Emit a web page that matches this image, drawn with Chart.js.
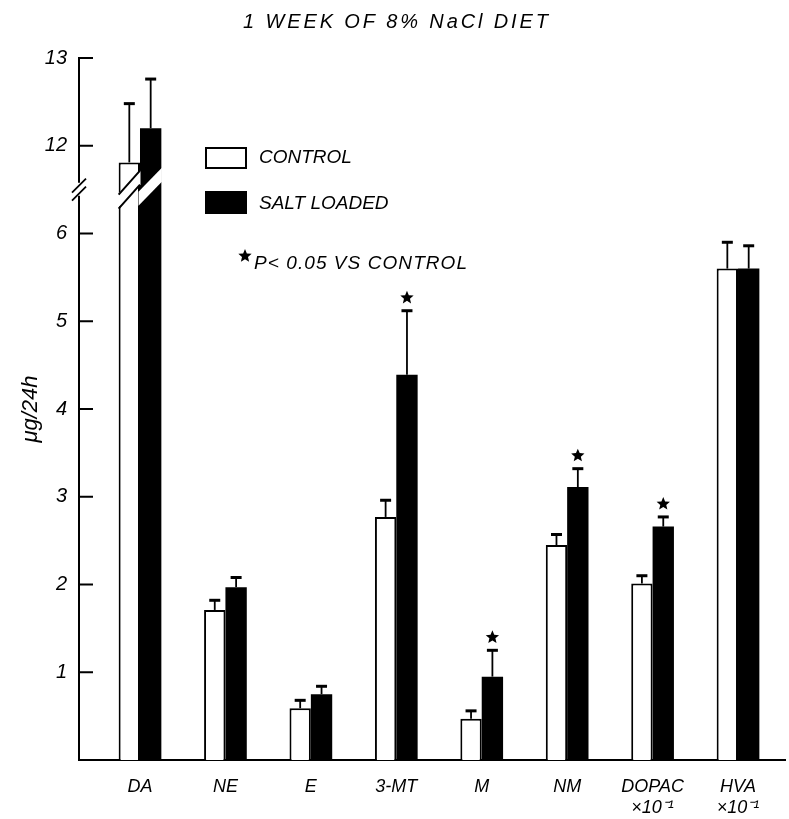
<!DOCTYPE html>
<html>
<head>
<meta charset="utf-8">
<script src="https://cdn.jsdelivr.net/npm/chart.js@4"></script>
<style>
  html, body { margin: 0; padding: 0; background: #fff; }
  #wrap { width: 789px; height: 819px; }
</style>
</head>
<body>
<div id="wrap"><canvas id="chart"></canvas></div>
<script>
const CATEGORIES = [["DA"], ["NE"], ["E"], ["3-MT"], ["M"], ["NM"], ["DOPAC", "×10⁻¹"], ["HVA", "×10⁻¹"]];
const CONTROL = [11.81, 1.71, 0.59, 2.77, 0.47, 2.45, 2.01, 5.60];
const CONTROL_ERR = [12.48, 1.82, 0.68, 2.96, 0.56, 2.57, 2.10, 5.90];
const SALT = [12.20, 1.97, 0.75, 4.39, 0.95, 3.11, 2.66, 5.60];
const SALT_ERR = [12.76, 2.08, 0.84, 5.12, 1.25, 3.32, 2.77, 5.86];
const SIGNIFICANT = [false, false, false, true, true, true, true, false];
const Y_TICKS = [1, 2, 3, 4, 5, 6, 12, 13];

// axis break: values between 6.5 and 11.5 are cut out of the scale
const BREAK_LOW = 6.5;
const BREAK_GAP = 5;
const FONT = "'Liberation Sans', Arial, sans-serif";

function toDisplay(v) {
  return v > BREAK_LOW ? v - BREAK_GAP : v;
}
function fromDisplay(v) {
  return v > BREAK_LOW ? v + BREAK_GAP : v;
}

function drawStar(ctx, cx, cy, r) {
  ctx.beginPath();
  for (let i = 0; i < 10; i++) {
    const rad = i % 2 === 0 ? r : r * 0.45;
    const a = -Math.PI / 2 + (i * Math.PI) / 5;
    const px = cx + rad * Math.cos(a);
    const py = cy + rad * Math.sin(a);
    if (i === 0) ctx.moveTo(px, py);
    else ctx.lineTo(px, py);
  }
  ctx.closePath();
  ctx.fill();
}

// lettering in the original is wide; stretch text to the width it has there
function spacedText(ctx, text, x, y, width) {
  ctx.letterSpacing = "0px";
  const w = ctx.measureText(text).width;
  if ("letterSpacing" in ctx) {
    ctx.letterSpacing = Math.max(0, (width - w) / (text.length - 1)).toFixed(2) + "px";
  }
  ctx.fillText(text, x, y);
  ctx.letterSpacing = "0px";
}

const whiteBg = {
  id: "whiteBg",
  beforeDraw(chart) {
    const { ctx, width, height } = chart;
    ctx.save();
    ctx.fillStyle = "#fff";
    ctx.fillRect(0, 0, width, height);
    ctx.restore();
  },
};

// break marks on the DA bars, error bars and significance stars
const barExtras = {
  id: "barExtras",
  afterDatasetsDraw(chart) {
    const { ctx } = chart;
    const y = chart.scales.y;
    const yc = y.getPixelForValue(BREAK_LOW);
    const errs = [CONTROL_ERR, SALT_ERR];

    // diagonal cut through each bar that crosses the break
    chart.data.datasets.forEach((ds, di) => {
      const meta = chart.getDatasetMeta(di);
      meta.data.forEach((bar, i) => {
        const raw = di === 0 ? CONTROL[i] : SALT[i];
        if (raw <= BREAK_LOW) return;
        const half = bar.width / 2;
        const L = bar.x - half, R = bar.x + half;
        const rise = 12, gap = 7;
        const shift = di === 0 ? 0 : -3;
        ctx.save();
        ctx.fillStyle = "#fff";
        ctx.beginPath();
        ctx.moveTo(L - 1.5, yc + rise - gap + shift);
        ctx.lineTo(R + 0.5, yc - rise - gap + shift);
        ctx.lineTo(R + 0.5, yc - rise + gap + shift);
        ctx.lineTo(L - 1.5, yc + rise + gap + shift);
        ctx.closePath();
        ctx.fill();
        if (di === 0) {
          ctx.strokeStyle = "#000";
          ctx.lineWidth = 2;
          ctx.beginPath();
          ctx.moveTo(L, yc + rise - gap);
          ctx.lineTo(R, yc - rise - gap);
          ctx.moveTo(L, yc + rise + gap);
          ctx.lineTo(R, yc - rise + gap);
          ctx.stroke();
        }
        ctx.restore();
      });
    });

    chart.data.datasets.forEach((ds, di) => {
      const meta = chart.getDatasetMeta(di);
      meta.data.forEach((bar, i) => {
        const top = bar.y;
        const cap = y.getPixelForValue(toDisplay(errs[di][i]));
        ctx.save();
        ctx.strokeStyle = "#000";
        ctx.lineWidth = 1.8;
        ctx.beginPath();
        ctx.moveTo(bar.x, top);
        ctx.lineTo(bar.x, cap);
        ctx.stroke();
        ctx.lineWidth = 3;
        ctx.beginPath();
        ctx.moveTo(bar.x - 5.5, cap);
        ctx.lineTo(bar.x + 5.5, cap);
        ctx.stroke();
        if (di === 1 && SIGNIFICANT[i]) {
          ctx.fillStyle = "#000";
          drawStar(ctx, bar.x, cap - 13, 7);
        }
        ctx.restore();
      });
    });
  },
};

// y axis line with inward ticks and break marks, legend and title
const annotations = {
  id: "annotations",
  afterDraw(chart) {
    const { ctx, chartArea } = chart;
    const y = chart.scales.y;
    const x0 = chartArea.left;
    const yb = y.getPixelForValue(BREAK_LOW);

    ctx.save();
    ctx.strokeStyle = "#000";
    ctx.lineWidth = 2;
    ctx.beginPath();
    ctx.moveTo(x0, y.getPixelForValue(y.max));
    ctx.lineTo(x0, yb - 7);
    ctx.moveTo(x0, yb + 6);
    ctx.lineTo(x0, chartArea.bottom);
    Y_TICKS.forEach((v) => {
      const py = y.getPixelForValue(toDisplay(v));
      ctx.moveTo(x0 - 1, py);
      ctx.lineTo(x0 + 14, py);
    });
    ctx.stroke();
    ctx.lineWidth = 1.8;
    ctx.beginPath();
    [-4, 4].forEach((off) => {
      ctx.moveTo(x0 - 7, yb + off + 7);
      ctx.lineTo(x0 + 7, yb + off - 7);
    });
    ctx.stroke();

    // legend
    const c = chart.data.datasets;
    ctx.lineWidth = 2;
    ctx.fillStyle = c[0].backgroundColor;
    ctx.fillRect(206, 148, 40, 20);
    ctx.strokeRect(206, 148, 40, 20);
    ctx.fillStyle = c[1].backgroundColor;
    ctx.fillRect(205, 191, 42, 23);
    ctx.fillStyle = "#000";
    ctx.font = "italic 19px " + FONT;
    ctx.textBaseline = "middle";
    ctx.textAlign = "left";
    spacedText(ctx, c[0].label, 259, 158, 87);
    spacedText(ctx, c[1].label, 259, 204, 128);
    drawStar(ctx, 245, 256, 7);
    spacedText(ctx, "P< 0.05 VS CONTROL", 254, 264, 213);

    // title
    ctx.font = "italic 20px " + FONT;
    spacedText(ctx, "1 WEEK OF 8% NaCl DIET", 243, 22, 305);
    ctx.restore();
  },
};

const ctx = document.getElementById("chart");

new Chart(ctx, {
  type: "bar",
  data: {
    datasets: [
      {
        label: "CONTROL",
        data: CONTROL.map((v, i) => ({ x: i, y: toDisplay(v) })),
        backgroundColor: "#ffffff",
        borderColor: "#000000",
        borderWidth: 2,
        borderSkipped: "start",
      },
      {
        label: "SALT LOADED",
        data: SALT.map((v, i) => ({ x: i, y: toDisplay(v) })),
        backgroundColor: "#000000",
        borderWidth: 0,
      },
    ],
  },
  options: {
    responsive: true,
    maintainAspectRatio: false,
    animation: false,
    devicePixelRatio: 1,
    layout: { padding: { top: 58, right: 4, left: 0, bottom: 0 } },
    datasets: {
      bar: { categoryPercentage: 0.5, barPercentage: 1 },
    },
    plugins: {
      legend: { display: false },
      title: { display: false },
      tooltip: { enabled: false },
    },
    scales: {
      x: {
        type: "linear",
        offset: false,
        bounds: "data",
        min: -0.714,
        max: 7.55,
        afterBuildTicks: (s) => {
          s.ticks = CATEGORIES.map((_, i) => ({ value: i }));
        },
        afterFit: (s) => {
          s.height = 59;
        },
        grid: { display: false, drawTicks: false, offset: false },
        border: { display: true, color: "#000", width: 2 },
        ticks: {
          autoSkip: false,
          maxRotation: 0,
          padding: 16,
          color: "#000",
          font: { family: FONT, size: 18, style: "italic", lineHeight: 1.2 },
          callback: (v) => CATEGORIES[v],
        },
      },
      y: {
        min: 0,
        max: 8,
        afterBuildTicks: (s) => {
          s.ticks = Y_TICKS.map((v) => ({ value: toDisplay(v) }));
        },
        afterFit: (s) => {
          s.width = 79;
        },
        grid: { display: false, drawTicks: false },
        border: { display: false },
        ticks: {
          padding: 12,
          color: "#000",
          font: { family: FONT, size: 20, style: "italic" },
          callback: (v) => String(fromDisplay(v)),
        },
        title: {
          display: true,
          text: "μg/24h",
          color: "#000",
          padding: { top: 18, bottom: 0 },
          font: { family: FONT, size: 22, style: "italic" },
        },
      },
    },
  },
  plugins: [whiteBg, barExtras, annotations],
});
</script>
</body>
</html>
